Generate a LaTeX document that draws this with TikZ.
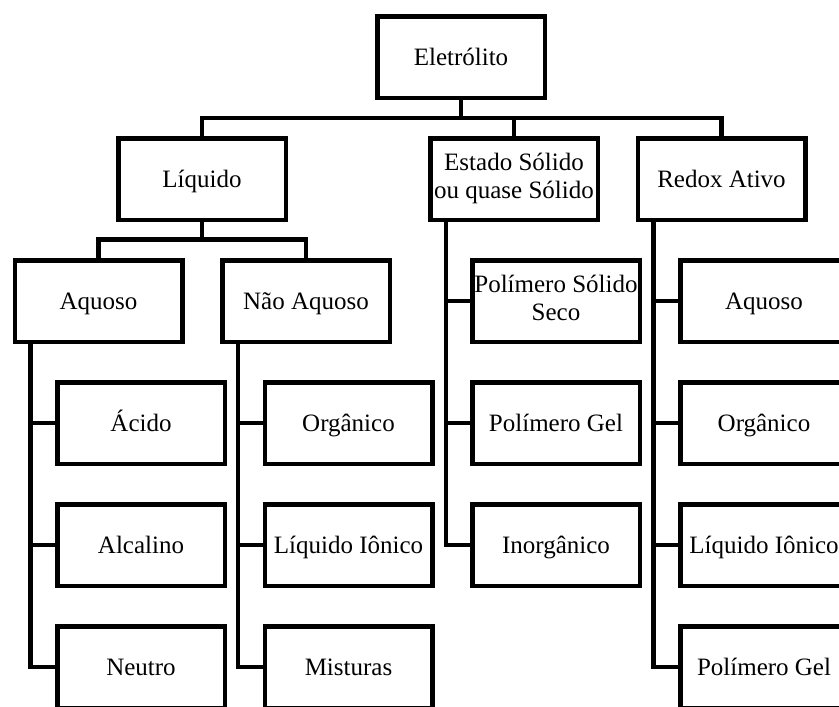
\documentclass[tikz,border=0pt]{standalone}
\usepackage{fontspec}
\setmainfont{Liberation Serif}
\usepackage{tikz}

\newcommand{\boxstrut}{\rule[-6pt]{0pt}{28pt}}
\tikzset{
  box/.style={draw,line width=4.5pt,minimum width=167.5pt,minimum height=81.5pt,
    inner sep=0pt,align=center,font=\fontsize{25}{28}\selectfont,
    execute at begin node=\boxstrut,execute at end node=\boxstrut},
  link/.style={line width=4.5pt}
}

\begin{document}
\begin{tikzpicture}[x=1pt,y=1pt]
      \useasboundingbox (0,0) rectangle (839,-707);
      \clip (0,0) rectangle (839,-707);
      \node[box] (eletrolito) at (461,-57) {Eletrólito};
      \node[box] (liquido) at (202,-179) {Líquido};
      \node[box] (solido) at (514,-179) {Estado Sólido\\ou quase Sólido};
      \node[box] (redox) at (721.5,-179) {Redox Ativo};
      \node[box] (aquoso) at (98.5,-301) {Aquoso};
      \node[box] (naoaquoso) at (306,-301) {Não Aquoso};
      \node[box] (acido) at (141,-423) {Ácido};
      \node[box] (alcalino) at (141,-545) {Alcalino};
      \node[box] (neutro) at (141,-667) {Neutro};
      \node[box] (organico) at (348.5,-423) {Orgânico};
      \node[box] (ionico) at (348.5,-545) {Líquido Iônico};
      \node[box] (misturas) at (348.5,-667) {Misturas};
      \node[box] (polseco) at (556,-301) {Polímero Sólido\\Seco};
      \node[box] (polgel) at (556,-423) {Polímero Gel};
      \node[box] (inorganico) at (556,-545) {Inorgânico};
      \node[box] (raquoso) at (764,-301) {Aquoso};
      \node[box] (rorganico) at (764,-423) {Orgânico};
      \node[box] (rionico) at (764,-545) {Líquido Iônico};
      \node[box] (rpolgel) at (764,-667) {Polímero Gel};
      \draw[link] (eletrolito.south) -- ++(0,-18) coordinate (bus);
      \draw[link] (liquido.north) |- (bus) -| (redox.north);
      \draw[link] (solido.north) -- (solido.north |- bus);
      \draw[link] (liquido.south) -- ++(0,-17.5) coordinate (busliq);
      \draw[link] (aquoso.north) |- (busliq) -| (naoaquoso.north);
      \foreach \c in {acido,alcalino,neutro}
        \draw[link] ([xshift=18pt]aquoso.south west) |- (\c.west);
      \foreach \c in {organico,ionico,misturas}
        \draw[link] ([xshift=18pt]naoaquoso.south west) |- (\c.west);
      \foreach \c in {polseco,polgel,inorganico}
        \draw[link] ([xshift=18pt]solido.south west) |- (\c.west);
      \foreach \c in {raquoso,rorganico,rionico,rpolgel}
        \draw[link] ([xshift=18pt]redox.south west) |- (\c.west);
    \end{tikzpicture}
\end{document}
